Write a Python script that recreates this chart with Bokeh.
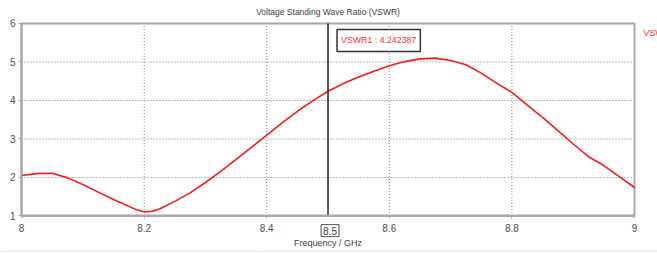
from bokeh.plotting import figure
from bokeh.models import Range1d, FixedTicker, Label, Span
from bokeh.embed import file_html
from bokeh.resources import INLINE

# ---- data ----
freq_ghz = [8.000, 8.025, 8.050, 8.075, 8.100, 8.125, 8.150, 8.175, 8.1875, 8.200,
            8.2125, 8.225, 8.250, 8.275, 8.300, 8.325, 8.350, 8.375, 8.400, 8.425,
            8.450, 8.475, 8.500, 8.525, 8.550, 8.575, 8.600, 8.625, 8.650, 8.675,
            8.700, 8.725, 8.750, 8.775, 8.800, 8.825, 8.850, 8.875, 8.900, 8.925,
            8.950, 8.975, 9.000]
vswr = [2.05, 2.10, 2.11, 1.99, 1.82, 1.62, 1.43, 1.25, 1.16, 1.11,
        1.12, 1.18, 1.38, 1.60, 1.87, 2.16, 2.47, 2.78, 3.10, 3.42,
        3.72, 3.99, 4.24, 4.44, 4.61, 4.76, 4.90, 5.01, 5.08, 5.10,
        5.04, 4.93, 4.71, 4.45, 4.21, 3.88, 3.56, 3.22, 2.87, 2.54,
        2.31, 2.02, 1.74]
x_ticks = [8.0, 8.2, 8.4, 8.6, 8.8, 9.0]
x_tick_labels = ["8", "8.2", "8.4", "8.6", "8.8", "9"]
y_ticks = [1, 2, 3, 4, 5, 6]
x_grid = [8.2, 8.4, 8.6, 8.8]
y_grid = [2, 3, 4, 5]
marker_freq = 8.5
marker_freq_label = "8.5"
marker_text = "VSWR1 : 4.242387"
series_name = "VSWR1"
title_text = "Voltage Standing Wave Ratio (VSWR)"
x_label = "Frequency / GHz"

FONT = "Liberation Sans"

x0, x1 = x_ticks[0], x_ticks[-1]
y0, y1 = y_ticks[0], y_ticks[-1]

# the frame covers the whole canvas; the plot box is drawn inside it
p = figure(width=657, height=254, output_backend="svg", toolbar_location=None,
           title_location=None,
           x_range=Range1d(7.9657, 9.0375), y_range=Range1d(0.0, 6.597),
           min_border_left=0, min_border_right=0,
           min_border_top=0, min_border_bottom=0)
p.outline_line_color = None
p.background_fill_color = "white"
p.border_fill_color = "white"
p.xgrid.visible = False
p.ygrid.visible = False

# axes drawn at the edges of the plot box
for ax in (p.xaxis[0], p.yaxis[0]):
    ax.axis_line_color = "#a8a8a8"
    ax.axis_line_width = 2
    ax.major_tick_line_color = "#a8a8a8"
    ax.major_tick_line_width = 1
    ax.major_tick_in = 0
    ax.major_tick_out = 3
    ax.minor_tick_line_color = None
    ax.major_label_text_font = FONT
    ax.major_label_text_font_size = "10px"
    ax.major_label_text_color = "#505050"

p.xaxis.fixed_location = y0
p.xaxis.bounds = (x0, x1)
p.xaxis.ticker = FixedTicker(ticks=x_ticks)
p.xaxis.major_label_overrides = {t: l for t, l in zip(x_ticks, x_tick_labels)}
p.xaxis.major_label_standoff = 5

p.yaxis.fixed_location = x0
p.yaxis.bounds = (y0, y1)
p.yaxis.ticker = FixedTicker(ticks=y_ticks)
p.yaxis.major_label_standoff = 3

# dotted grid
p.segment(x0=x_grid, x1=x_grid, y0=[y0] * len(x_grid), y1=[y1] * len(x_grid),
          line_color="#808080", line_dash="1 2", line_width=1)
p.segment(x0=[x0] * len(y_grid), x1=[x1] * len(y_grid), y0=y_grid, y1=y_grid,
          line_color="#808080", line_dash="1 2", line_width=1)

# top / right border of the plot box
p.quad(left=[x0], right=[x1], bottom=[y0], top=[y1], fill_color=None,
       line_color="#a8a8a8", line_width=2)

# curve
p.line(freq_ghz, vswr, line_color="#ff1a1a", line_width=1.6, line_join="round")

# marker line
p.segment(x0=[marker_freq], x1=[marker_freq], y0=[y0], y1=[y1],
          line_color="#202020", line_width=1.5)

# title
p.add_layout(Label(x=marker_freq, y=6.31, text=title_text, text_align="center",
                   text_baseline="middle", text_font=FONT,
                   text_font_size="8.5px", text_color="#404040"))

# marker value box
box_style = dict(x=marker_freq, y=5.56, x_offset=9, text=marker_text,
                 text_align="left", text_baseline="middle", text_font=FONT,
                 text_font_size="8.8px", text_color="#ff3030",
                 background_fill_color="white", border_line_color="#333333",
                 border_line_width=1.5)
try:
    marker_box = Label(padding=dict(left=4, right=4, top=6, bottom=6), **box_style)
except Exception:
    marker_box = Label(padding=4, **box_style)
p.add_layout(marker_box)

# boxed frequency label under the marker
p.add_layout(Label(x=marker_freq, y=0.62, x_offset=2, text=marker_freq_label,
                   text_align="center", text_baseline="middle", text_font=FONT,
                   text_font_size="10px", text_color="#404040",
                   background_fill_color="white", border_line_color="#505050",
                   border_line_width=1, padding=2))

# x axis title
p.add_layout(Label(x=marker_freq, y=0.29, text=x_label, text_align="center",
                   text_baseline="middle", text_font=FONT,
                   text_font_size="9px", text_color="#404040"))

# series name at the right edge (cut by the window, as in the reference)
p.add_layout(Label(x=9.0147, y=5.74, text=series_name, text_align="left",
                   text_baseline="middle", text_font=FONT,
                   text_font_size="8.8px", text_color="#ff3030"))

# faint separator near the bottom
p.add_layout(Span(location=0.08, dimension="width", line_color="#e2e2e2",
                  line_width=1))

open("out.html", "w").write(file_html(p, INLINE))
